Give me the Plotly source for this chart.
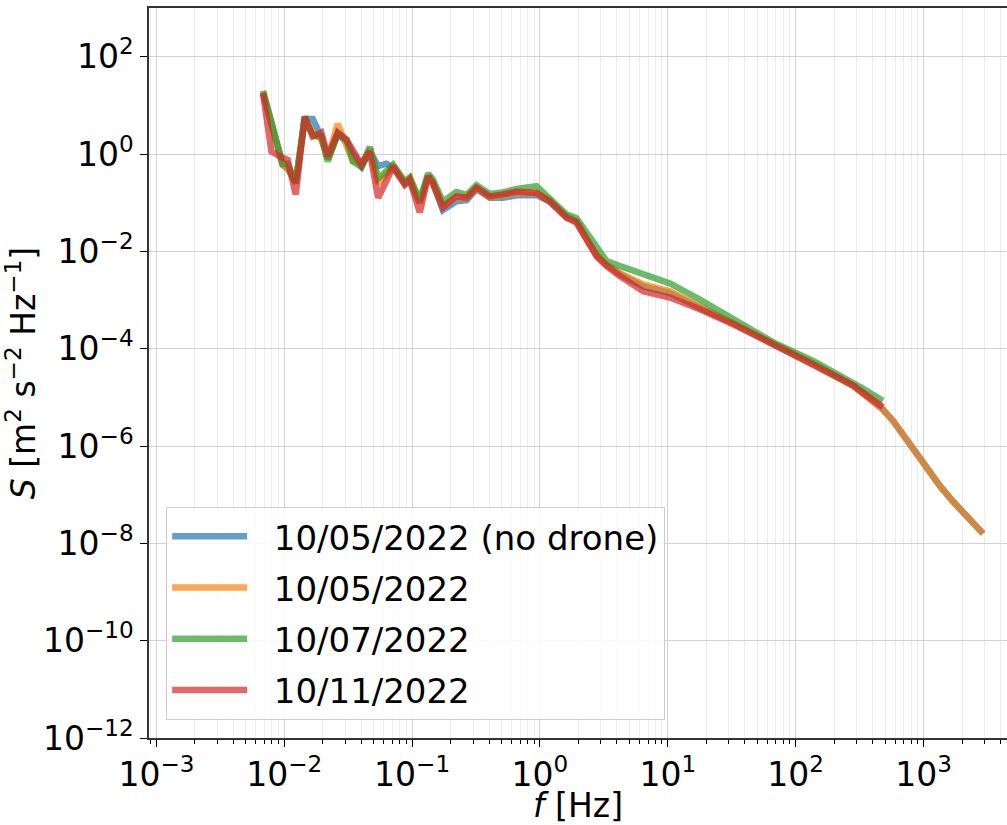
import plotly.graph_objects as go

# Frequency grid [Hz]
freq = [0.00682, 0.00794, 0.0097, 0.01064, 0.0123, 0.01445, 0.0167, 0.0195, 0.0219, 0.0262,
        0.0307, 0.0344, 0.0402, 0.0467, 0.0542, 0.0630, 0.0710, 0.0877, 0.0959, 0.1148,
        0.1334, 0.145, 0.174, 0.222, 0.267, 0.319, 0.405, 0.513, 0.656, 0.94,
        1.19, 1.61, 1.93, 2.32, 2.77, 3.32, 4.22, 6.42, 10.4, 17.8,
        32.5, 66.8, 137, 282, 336, 403, 482]
# high-frequency tail (only 10/05 records)
freq_tail = [577, 691, 828, 1064, 1345, 1702, 2312, 2924]

# log10 of spectral density S [m^2 s^-2 Hz^-1]
log_s_nodrone = [1.25, 0.60, -0.22, -0.30, -0.57, 0.72, 0.72, 0.35, -0.10, 0.40,
                 0.25, 0.00, -0.25, 0.05, -0.25, -0.20, -0.28, -0.62, -0.55, -1.00,
                 -0.45, -0.60, -1.15, -0.97, -0.95, -0.72, -0.90, -0.90, -0.85, -0.84,
                 -0.98, -1.29, -1.39, -1.75, -2.08, -2.28, -2.47, -2.72, -2.86, -3.16,
                 -3.48, -3.91, -4.31, -4.76, -4.91, -5.07, -5.25]
log_s_1005 = [1.27, 0.62, -0.22, -0.30, -0.60, 0.72, 0.45, 0.30, -0.10, 0.62,
              0.15, -0.15, -0.20, 0.10, -0.60, -0.40, -0.27, -0.60, -0.50, -1.00,
              -0.45, -0.60, -1.05, -0.90, -0.90, -0.70, -0.88, -0.85, -0.80, -0.80,
              -0.95, -1.28, -1.38, -1.74, -2.07, -2.27, -2.45, -2.68, -2.82, -3.13,
              -3.47, -3.90, -4.31, -4.76, -4.91, -5.07, -5.25]
log_s_tail = [-5.48, -5.77, -6.04, -6.47, -6.82, -7.14, -7.49, -7.80]
log_s_1007 = [1.30, 0.62, -0.20, -0.20, -0.60, 0.74, 0.38, 0.35, -0.15, 0.42,
              0.30, -0.15, -0.27, 0.15, -0.50, -0.35, -0.22, -0.56, -0.48, -0.95,
              -0.40, -0.52, -0.98, -0.78, -0.84, -0.64, -0.82, -0.79, -0.72, -0.66,
              -0.90, -1.24, -1.32, -1.62, -1.95, -2.20, -2.30, -2.48, -2.66, -2.99,
              -3.40, -3.87, -4.25, -4.69, -4.82, -4.95, -5.07]
log_s_1011 = [1.25, 0.05, -0.08, -0.12, -0.83, 0.77, 0.36, 0.44, -0.05, 0.44,
              0.29, 0.09, -0.22, 0.05, -0.90, -0.55, -0.25, -0.63, -0.53, -1.20,
              -0.46, -0.59, -1.10, -0.87, -0.90, -0.69, -0.87, -0.83, -0.77, -0.80,
              -0.97, -1.31, -1.41, -1.76, -2.10, -2.30, -2.51, -2.82, -2.95, -3.19,
              -3.50, -3.91, -4.32, -4.76, -4.90, -5.05, -5.20]

series = [
    ("10/05/2022 (no drone)", freq + freq_tail, log_s_nodrone + log_s_tail, "#1f77b4"),
    ("10/05/2022", freq + freq_tail, log_s_1005 + log_s_tail, "#ff7f0e"),
    ("10/07/2022", freq, log_s_1007, "#2ca02c"),
    ("10/11/2022", freq, log_s_1011, "#d62728"),
]

FONT = "DejaVu Sans"
NB = "\u00a0\u00a0"
fig = go.Figure()
for i, (name, f, ls, col) in enumerate(series):
    fig.add_trace(go.Scatter(
        x=f, y=[10 ** v for v in ls], mode="lines", name=NB + name,
        legendgroup="g%d" % i,
        line=dict(color=col, width=6.5), opacity=0.7))

x_major = [10.0 ** k for k in range(-3, 4)]
x_minor = [m * 10.0 ** k for k in range(-4, 4) for m in range(2, 10)]
y_major = [10.0 ** k for k in range(-12, 3, 2)]


def ptext(k):
    return "10<sup>" + ("\u2212" if k < 0 else "") + str(abs(k)) + "</sup>"


fig.update_xaxes(
    type="log", range=[-3.058, 3.653],
    tickmode="array", tickvals=x_major, ticktext=[ptext(k) for k in range(-3, 4)],
    ticks="outside", ticklen=7, tickwidth=1.2, tickcolor="#000",
    showline=True, linecolor="#333", linewidth=1.5, mirror=True,
    showgrid=True, gridcolor="#d3d3d3", gridwidth=1,
    minor=dict(tickmode="array", tickvals=x_minor, ticks="outside", ticklen=4,
               tickcolor="#000", tickwidth=1, showgrid=True, gridcolor="#ececec", gridwidth=1),
    tickfont=dict(family=FONT, size=33, color="#000"),
    title=dict(text="<i>f</i> [Hz]", font=dict(family=FONT, size=33, color="#000"), standoff=8),
    zeroline=False,
)
fig.update_yaxes(
    type="log", range=[-12.0, 3.0],
    tickmode="array", tickvals=y_major, ticktext=[ptext(k) for k in range(-12, 3, 2)],
    ticks="outside", ticklen=7, tickwidth=1.2, tickcolor="#000",
    showline=True, linecolor="#333", linewidth=1.5, mirror=False,
    showgrid=True, gridcolor="#d3d3d3", gridwidth=1,
    tickfont=dict(family=FONT, size=33, color="#000"),
    title=dict(text="<i>S</i> [m<sup>2</sup> s<sup>\u22122</sup> Hz<sup>\u22121</sup>]",
               font=dict(family=FONT, size=33, color="#000"), standoff=2),
    zeroline=False,
)

fig.update_layout(
    width=1007, height=825,
    margin=dict(l=149, r=0, t=8, b=85),
    paper_bgcolor="white", plot_bgcolor="white",
    font=dict(family=FONT, color="#000"),
    legend=dict(
        x=0.02, y=0.025, xanchor="left", yanchor="bottom",
        bgcolor="rgba(255,255,255,0.85)", bordercolor="#cccccc", borderwidth=1,
        font=dict(family=FONT, size=34, color="#000"),
        itemwidth=75, tracegroupgap=4,
    ),
)

fig.write_html("out.html")
